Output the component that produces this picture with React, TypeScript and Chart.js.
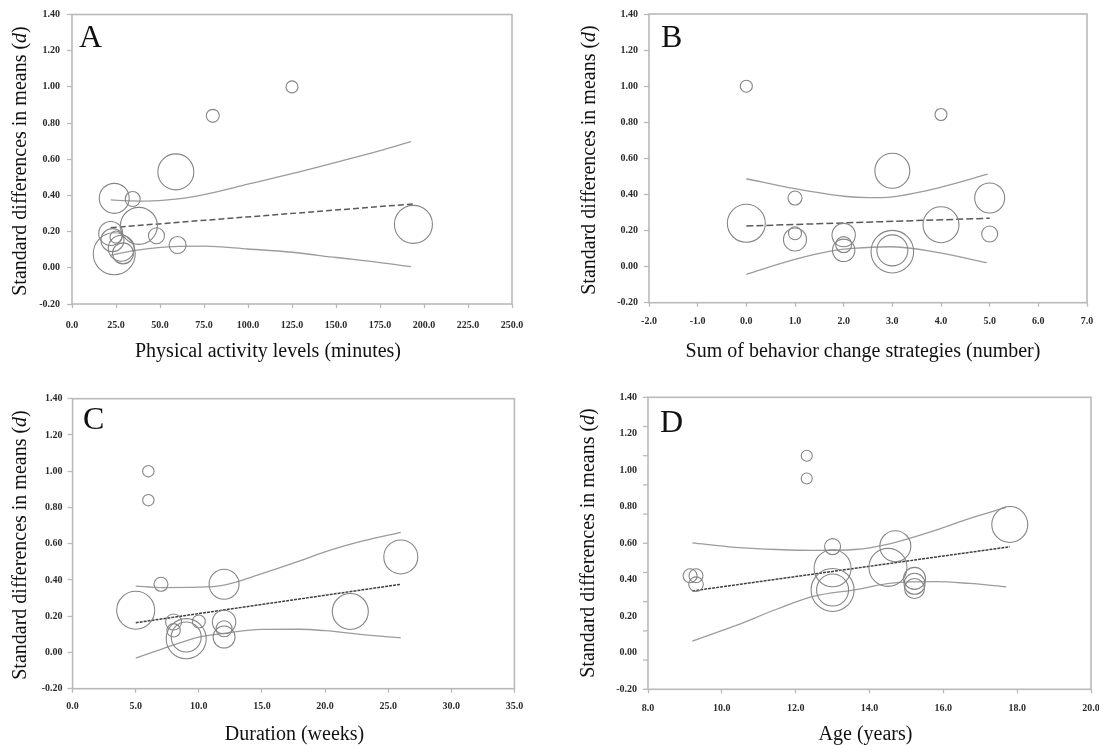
import React, { useEffect, useRef } from 'react';
import { Chart, registerables } from 'chart.js';

Chart.register(...registerables);

// ---------- Panel A: Physical activity levels (minutes) ----------
const aMinutes = [125, 80, 59, 24, 34.5, 38, 194, 48, 60, 22, 23, 25, 24, 28, 29];
const aEffect = [1.0, 0.84, 0.53, 0.384, 0.38, 0.232, 0.24, 0.177, 0.126, 0.19, 0.153, 0.17, 0.078, 0.108, 0.08];
const aWeight = [6, 6.5, 18, 15, 7.5, 18.5, 19, 8, 8.5, 12, 11.5, 6, 21, 13, 10.5];
const aFitX = [22, 194];
const aFitY = [0.222, 0.353];
const aUpperX = [22, 34.5, 42, 59, 75, 100, 125, 150, 175, 192.6];
const aUpperY = [0.375, 0.37, 0.369, 0.38, 0.405, 0.462, 0.52, 0.583, 0.648, 0.698];
const aLowerX = [22, 35, 49, 75, 100, 125, 150, 175, 192.6];
const aLowerY = [0.07, 0.095, 0.112, 0.12, 0.104, 0.086, 0.057, 0.029, 0.006];
const aXTicks = { min: 0, max: 250, step: 25 };

// ---------- Panel B: Sum of behavior change strategies ----------
const bStrategies = [0, 4, 3, 1, 5, 0, 4, 1, 1, 2, 2, 2, 3, 3, 5];
const bEffect = [1.0, 0.843, 0.531, 0.38, 0.38, 0.24, 0.232, 0.185, 0.15, 0.175, 0.122, 0.09, 0.083, 0.09, 0.181];
const bWeight = [6, 6, 17.5, 7, 15, 19, 18, 6.5, 11.5, 11.7, 8, 11.2, 21.3, 15.5, 8];
const bFitX = [0, 5];
const bFitY = [0.225, 0.268];
const bUpperX = [0, 1, 2, 2.5, 3, 4, 4.96];
const bUpperY = [0.487, 0.432, 0.39, 0.382, 0.387, 0.44, 0.512];
const bLowerX = [0, 0.96, 1.78, 2.19, 2.95, 3.84, 4.94];
const bLowerY = [-0.043, 0.037, 0.088, 0.101, 0.11, 0.083, 0.022];
const bXTicks = { min: -2, max: 7, step: 1 };

// ---------- Panel C: Duration (weeks) ----------
const cWeeks = [6, 6, 7, 12, 5, 26, 22, 8, 8, 9, 9, 10, 12, 12, 12];
const cEffect = [1.0, 0.84, 0.376, 0.376, 0.233, 0.527, 0.226, 0.168, 0.122, 0.076, 0.085, 0.171, 0.168, 0.131, 0.085];
const cWeight = [5.7, 5.7, 7, 15, 19, 17, 18, 8, 6.7, 20, 15, 6.5, 11.7, 8, 11];
const cFitX = [5, 26];
const cFitY = [0.164, 0.376];
const cUpperX = [5, 7, 10, 12, 15, 18, 20, 23, 26];
const cUpperY = [0.366, 0.358, 0.36, 0.372, 0.435, 0.505, 0.555, 0.615, 0.663];
const cLowerX = [5, 7, 10, 12, 15, 18, 20, 23, 26];
const cLowerY = [-0.031, 0.017, 0.085, 0.105, 0.127, 0.128, 0.12, 0.098, 0.08];
const cXTicks = { min: 0, max: 35, step: 5 };

// ---------- Panel D: Age (years) ----------
const dAge = [12.3, 12.3, 17.8, 13, 14.7, 13, 14.5, 13, 13, 9.14, 9.3, 9.3, 15.22, 15.22, 15.22];
const dEffect = [1.08, 0.955, 0.703, 0.582, 0.584, 0.463, 0.468, 0.344, 0.344, 0.422, 0.422, 0.376, 0.408, 0.378, 0.352];
const dWeight = [5.5, 5.5, 18, 8, 15.5, 18.5, 19, 21.5, 16, 7, 7, 7.3, 11, 10.5, 10];
const dFitX = [9.2, 17.8];
const dFitY = [0.339, 0.581];
const dUpperX = [9.2, 10.35, 11.5, 12.5, 13.6, 14.6, 15.8, 16.7, 17.7];
const dUpperY = [0.602, 0.578, 0.566, 0.561, 0.566, 0.6, 0.672, 0.735, 0.797];
const dLowerX = [9.2, 10.35, 11.5, 12.5, 13.6, 14.6, 15.8, 16.7, 17.7];
const dLowerY = [0.064, 0.147, 0.24, 0.31, 0.345, 0.382, 0.39, 0.38, 0.362];
const dXTicks = { min: 8, max: 20, step: 2 };

const yTicks = { min: -0.2, max: 1.4, step: 0.2 };
const yTitleParts: [string, boolean][] = [
  ['Standard differences in means (', false],
  ['d', true],
  [')', false],
];

const FRAME = '#b9b9b9';
const CIRCLE = '#858585';
const CI = '#9c9c9c';
const TICKTEXT = '#2b2b2b';
const SERIF = '"Liberation Serif", "Times New Roman", serif';

type PanelCfg = {
  pos: { left: number; top: number; width: number; height: number };
  area: { left: number; right: number; top: number; bottom: number };
  xt: { min: number; max: number; step: number };
  sx: number[]; sy: number[]; sw: number[];
  fx: number[]; fy: number[];
  ux: number[]; uy: number[];
  lx: number[]; ly: number[];
  fitColor: string; fitDash: number[];
  letter: string; letterPos: [number, number];
  xTitle: string; xTitlePos: [number, number];
  yTitlePos: [number, number];
  yPad: number; xPad: number;
  minorY: boolean;
};

const pts = (xs: number[], ys: number[]) => xs.map((x, i) => ({ x, y: ys[i] }));

function Panel({ cfg }: { cfg: PanelCfg }) {
  const ref = useRef<HTMLCanvasElement | null>(null);
  useEffect(() => {
    const canvas = ref.current;
    if (!canvas) return;
    const { pos, area } = cfg;
    const decor = {
      id: 'decor',
      afterDraw(chart: any) {
        const { ctx, chartArea: ca } = chart;
        ctx.save();
        ctx.strokeStyle = FRAME;
        ctx.lineWidth = 1.6;
        ctx.strokeRect(ca.left, ca.top, ca.right - ca.left, ca.bottom - ca.top);
        if (cfg.minorY) {
          ctx.lineWidth = 1.3;
          for (let i = 0; i <= 10; i++) {
            const y = ca.top + ((ca.bottom - ca.top) * i) / 10;
            ctx.beginPath();
            ctx.moveTo(ca.left - 5, y);
            ctx.lineTo(ca.left, y);
            ctx.stroke();
          }
        }
        ctx.fillStyle = '#111';
        ctx.font = `32px ${SERIF}`;
        ctx.textAlign = 'left';
        ctx.textBaseline = 'alphabetic';
        ctx.fillText(cfg.letter, cfg.letterPos[0], cfg.letterPos[1]);

        ctx.font = `20px ${SERIF}`;
        ctx.textAlign = 'center';
        ctx.textBaseline = 'middle';
        ctx.fillText(cfg.xTitle, cfg.xTitlePos[0], cfg.xTitlePos[1]);

        ctx.translate(cfg.yTitlePos[0], cfg.yTitlePos[1]);
        ctx.rotate(-Math.PI / 2);
        ctx.textAlign = 'left';
        let total = 0;
        const widths = yTitleParts.map(([t, it]) => {
          ctx.font = `${it ? 'italic ' : ''}20px ${SERIF}`;
          const w = ctx.measureText(t).width;
          total += w;
          return w;
        });
        let x = -total / 2;
        yTitleParts.forEach(([t, it], i) => {
          ctx.font = `${it ? 'italic ' : ''}20px ${SERIF}`;
          ctx.fillText(t, x, 0);
          x += widths[i];
        });
        ctx.restore();
      },
    };

    const tickFont = { family: SERIF, size: 10, weight: 'bold' as const };
    const chart = new Chart(canvas, {
      type: 'bubble',
      data: {
        datasets: [
          {
            type: 'bubble',
            data: cfg.sx.map((x, i) => ({ x, y: cfg.sy[i], r: cfg.sw[i] })),
            backgroundColor: 'rgba(0,0,0,0)',
            borderColor: CIRCLE,
            borderWidth: 1.1,
            hoverRadius: 0,
          } as any,
          {
            type: 'line',
            data: pts(cfg.ux, cfg.uy),
            borderColor: CI,
            borderWidth: 1.3,
            pointRadius: 0,
            fill: false,
            cubicInterpolationMode: 'monotone',
          } as any,
          {
            type: 'line',
            data: pts(cfg.lx, cfg.ly),
            borderColor: CI,
            borderWidth: 1.3,
            pointRadius: 0,
            fill: false,
            cubicInterpolationMode: 'monotone',
          } as any,
          {
            type: 'line',
            data: pts(cfg.fx, cfg.fy),
            borderColor: cfg.fitColor,
            borderWidth: 1.5,
            borderDash: cfg.fitDash,
            pointRadius: 0,
            fill: false,
          } as any,
        ],
      },
      options: {
        responsive: false,
        animation: false,
        devicePixelRatio: 1,
        events: [],
        layout: {
          autoPadding: false,
          padding: { left: 0, top: area.top, right: pos.width - area.right, bottom: 0 },
        },
        plugins: {
          legend: { display: false },
          tooltip: { enabled: false },
          title: { display: false },
        },
        scales: {
          x: {
            type: 'linear',
            min: cfg.xt.min,
            max: cfg.xt.max,
            ticks: {
              stepSize: cfg.xt.step,
              autoSkip: false,
              maxRotation: 0,
              padding: cfg.xPad,
              color: TICKTEXT,
              font: tickFont,
              callback: (v: any) => {
                const n = Math.abs(Number(v)) < 1e-9 ? 0 : Number(v);
                return n.toFixed(1);
              },
            },
            grid: { drawOnChartArea: false, drawTicks: true, tickLength: 4, tickColor: FRAME, tickWidth: 1.3 },
            border: { display: false },
            afterFit: (s: any) => {
              s.height = pos.height - area.bottom;
              s.paddingLeft = 0;
              s.paddingRight = 0;
            },
          },
          y: {
            type: 'linear',
            min: yTicks.min,
            max: yTicks.max,
            ticks: {
              stepSize: yTicks.step,
              padding: cfg.yPad,
              color: TICKTEXT,
              font: tickFont,
              callback: (v: any) => {
                const n = Math.abs(Number(v)) < 1e-9 ? 0 : Number(v);
                return n.toFixed(2);
              },
            },
            grid: {
              drawOnChartArea: false,
              drawTicks: true,
              tickLength: 5,
              tickColor: cfg.minorY ? 'rgba(0,0,0,0)' : FRAME,
              tickWidth: 1.3,
            },
            border: { display: false },
            afterFit: (s: any) => {
              s.width = area.left;
              s.paddingTop = 0;
              s.paddingBottom = 0;
            },
          },
        },
      } as any,
      plugins: [decor],
    });
    return () => chart.destroy();
  }, [cfg]);
  const { pos } = cfg;
  return (
    <canvas
      ref={ref}
      width={pos.width}
      height={pos.height}
      style={{ position: 'absolute', left: pos.left, top: pos.top, width: pos.width, height: pos.height }}
    />
  );
}

const panels: PanelCfg[] = [
  {
    pos: { left: 0, top: 0, width: 549, height: 372 },
    area: { left: 72, right: 512, top: 14.5, bottom: 304 },
    xt: aXTicks,
    sx: aMinutes, sy: aEffect, sw: aWeight,
    fx: aFitX, fy: aFitY, ux: aUpperX, uy: aUpperY, lx: aLowerX, ly: aLowerY,
    fitColor: '#5a5a5a', fitDash: [6, 3],
    letter: 'A', letterPos: [79, 47],
    xTitle: 'Physical activity levels (minutes)', xTitlePos: [268, 352],
    yTitlePos: [21, 161],
    yPad: 7, xPad: 11, minorY: false,
  },
  {
    pos: { left: 549, top: 0, width: 550, height: 372 },
    area: { left: 100, right: 538, top: 14, bottom: 302.7 },
    xt: bXTicks,
    sx: bStrategies, sy: bEffect, sw: bWeight,
    fx: bFitX, fy: bFitY, ux: bUpperX, uy: bUpperY, lx: bLowerX, ly: bLowerY,
    fitColor: '#5a5a5a', fitDash: [7, 3],
    letter: 'B', letterPos: [112, 47],
    xTitle: 'Sum of behavior change strategies (number)', xTitlePos: [314, 352],
    yTitlePos: [41, 160],
    yPad: 6, xPad: 9, minorY: false,
  },
  {
    pos: { left: 0, top: 372, width: 549, height: 373 },
    area: { left: 72.6, right: 514.4, top: 26.7, bottom: 316.7 },
    xt: cXTicks,
    sx: cWeeks, sy: cEffect, sw: cWeight,
    fx: cFitX, fy: cFitY, ux: cUpperX, uy: cUpperY, lx: cLowerX, ly: cLowerY,
    fitColor: '#404040', fitDash: [3, 1],
    letter: 'C', letterPos: [83, 57],
    xTitle: 'Duration (weeks)', xTitlePos: [294.5, 363],
    yTitlePos: [21, 173],
    yPad: 5, xPad: 8, minorY: false,
  },
  {
    pos: { left: 549, top: 372, width: 550, height: 373 },
    area: { left: 99, right: 542, top: 25.3, bottom: 317.3 },
    xt: dXTicks,
    sx: dAge, sy: dEffect, sw: dWeight,
    fx: dFitX, fy: dFitY, ux: dUpperX, uy: dUpperY, lx: dLowerX, ly: dLowerY,
    fitColor: '#404040', fitDash: [3, 1],
    letter: 'D', letterPos: [111, 60],
    xTitle: 'Age (years)', xTitlePos: [316.5, 363],
    yTitlePos: [39.5, 171],
    yPad: 6, xPad: 9.5, minorY: true,
  },
];

export default function App() {
  return (
    <div style={{ position: 'absolute', left: 0, top: 0, width: 1099, height: 745, background: '#fff', overflow: 'hidden' }}>
      {panels.map((p) => (
        <Panel key={p.letter} cfg={p} />
      ))}
    </div>
  );
}
